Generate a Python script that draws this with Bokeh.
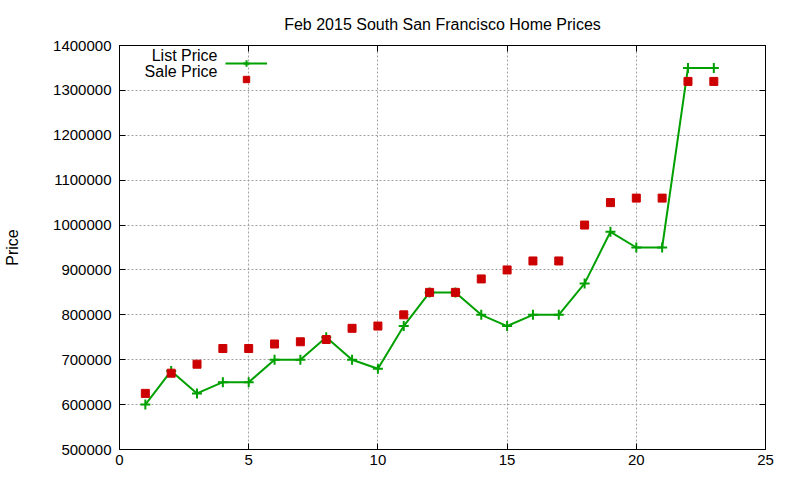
from bokeh.plotting import figure
from bokeh.models import (Range1d, LinearAxis, SingleIntervalTicker, NumeralTickFormatter,
                          CustomJSTickFormatter, Legend, LegendItem, ColumnDataSource, Label)
from bokeh.embed import file_html
from bokeh.resources import INLINE

# data
days = list(range(1, 24))
list_price = [600000, 675000, 625000, 650000, 650000, 700000, 700000, 750000, 700000, 680000,
              775000, 850000, 850000, 800000, 775000, 800000, 800000, 870000, 985000, 950000,
              950000, 1350000, 1350000]
sale_price = [625000, 670000, 690000, 725000, 725000, 735000, 740000, 745000, 770000, 775000,
              800000, 850000, 850000, 880000, 900000, 920000, 920000, 1000000, 1050000, 1060000,
              1060000, 1320000, 1320000]
series_names = ["List Price", "Sale Price"]
title_text = "Feb 2015 South San Francisco Home Prices"

FONT = "Liberation Sans"
GREEN = "#00a000"
RED = "#cc0000"

src = ColumnDataSource(dict(day=days, lp=list_price, sp=sale_price))

# bokeh's page template has no body margin, so the canvas fills the window
p = figure(width=800, height=480, output_backend="svg", toolbar_location=None,
           x_range=Range1d(0, 25), y_range=Range1d(500000, 1400000),
           min_border_left=119, min_border_right=35, min_border_top=45, min_border_bottom=31,
           title=title_text)

p.title.align = "center"
p.title.text_font = FONT
p.title.text_font_size = "16px"
p.title.text_font_style = "normal"
p.title.text_color = "black"
p.title.standoff = 25

xt = SingleIntervalTicker(interval=5)
yt = SingleIntervalTicker(interval=100000)
blank = CustomJSTickFormatter(code="return ''")

p.xaxis.ticker = xt
p.yaxis.ticker = yt
p.yaxis.formatter = NumeralTickFormatter(format="0")
p.yaxis.axis_label = "Price"
p.yaxis.axis_label_standoff = 29
p.yaxis.axis_label_text_font = FONT
p.yaxis.axis_label_text_font_size = "16px"
p.yaxis.axis_label_text_font_style = "normal"
p.yaxis.axis_label_text_color = "black"

# mirrored ticks on the right and on top, no labels
p.add_layout(LinearAxis(ticker=yt, formatter=blank, major_label_standoff=0, axis_label_standoff=0), "right")
p.add_layout(LinearAxis(ticker=xt, formatter=blank, major_label_standoff=0, axis_label_standoff=0), "above")

for ax in p.axis:
    ax.axis_line_color = "black"
    ax.major_tick_in = 6
    ax.major_tick_out = 0
    ax.minor_tick_in = 0
    ax.minor_tick_out = 0
    ax.major_tick_line_color = "black"
    ax.major_label_text_font = FONT
    ax.major_label_text_font_size = "15px"
    ax.major_label_text_color = "black"
p.xaxis[0].major_label_standoff = 7
p.xaxis[0].axis_label_standoff = 0
p.yaxis[0].major_label_standoff = 8

p.outline_line_color = "black"
p.grid.grid_line_color = "#a0a0a0"
p.grid.grid_line_dash = "2 2"
p.grid.grid_line_width = 1

line_r = p.line("day", "lp", source=src, line_color=GREEN, line_width=2)
plus_r = p.scatter("day", "lp", source=src, marker="cross", size=10, line_color=GREEN, line_width=2)
sq_r = p.scatter("day", "sp", source=src, marker="square", size=8, fill_color=RED, line_color=RED)

# gnuplot-style key: sample on the right, text to its left
legend = Legend(items=[LegendItem(label=" ", renderers=[line_r, plus_r]),
                       LegendItem(label=" ", renderers=[sq_r])],
                location=(106, 362), padding=0, margin=0, spacing=0,
                glyph_width=42, glyph_height=16, label_height=16, label_standoff=0,
                label_text_font_size="15px",
                border_line_color=None, background_fill_alpha=0)
p.add_layout(legend)
for i, name in enumerate(series_names):
    p.add_layout(Label(x=98, y=394 - 16 * i, x_units="screen", y_units="screen", text=name,
                       text_align="right", text_baseline="middle",
                       text_font=FONT, text_font_size="16px", text_color="black"))

open("out.html", "w").write(file_html(p, INLINE))
